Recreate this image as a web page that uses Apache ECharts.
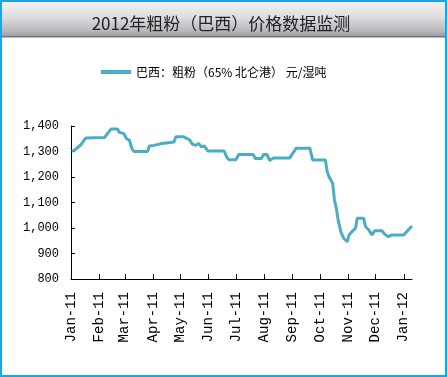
<!DOCTYPE html>
<html>
<head>
<meta charset="utf-8">
<script src="https://cdn.jsdelivr.net/npm/echarts@6/dist/echarts.min.js"></script>
<style>html,body{margin:0;padding:0;background:#fff;}#c{width:447px;height:377px;}</style>
</head>
<body>
<div id="c"></div>
<script>
var titleText = '2012年粗粉（巴西）价格数据监测';
var seriesName = '巴西：粗粉（65% 北仑港） 元/湿吨';
var dates = ['2011-01-02','2011-01-06','2011-01-08','2011-01-12','2011-01-17','2011-02-07','2011-02-10','2011-02-14','2011-02-21','2011-02-23','2011-02-28','2011-03-03','2011-03-06','2011-03-09','2011-03-11','2011-03-26','2011-03-28','2011-04-02','2011-04-03','2011-04-09','2011-04-10','2011-04-24','2011-04-26','2011-05-04','2011-05-06','2011-05-11','2011-05-14','2011-05-18','2011-05-21','2011-05-24','2011-05-27','2011-05-31','2011-06-18','2011-06-21','2011-06-23','2011-07-01','2011-07-04','2011-07-20','2011-07-22','2011-07-29','2011-07-31','2011-08-04','2011-08-07','2011-08-11','2011-08-29','2011-09-05','2011-09-20','2011-09-23','2011-10-07','2011-10-09','2011-10-11','2011-10-15','2011-10-17','2011-10-19','2011-10-21','2011-10-24','2011-10-27','2011-10-31','2011-11-02','2011-11-06','2011-11-09','2011-11-11','2011-11-18','2011-11-20','2011-11-23','2011-11-27','2011-11-30','2011-12-08','2011-12-11','2011-12-15','2011-12-19','2012-01-01','2012-01-05','2012-01-10'];
var prices = [1300,1308,1308,1327,1353,1355,1370,1388,1388,1375,1370,1350,1345,1310,1300,1300,1322,1324,1330,1330,1337,1337,1358,1358,1353,1346,1329,1324,1332,1318,1322,1302,1302,1277,1268,1268,1288,1288,1273,1273,1288,1288,1264,1275,1275,1313,1313,1267,1267,1221,1201,1175,1110,1077,1031,985,960,946,973,989,999,1038,1038,1005,995,973,989,989,976,966,973,973,989,1008];
var monthTicks = ['2011-01','2011-02','2011-03','2011-04','2011-05','2011-06','2011-07','2011-08','2011-09','2011-10','2011-11','2011-12','2012-01'];
var monthLabels = ['Jan-11','Feb-11','Mar-11','Apr-11','May-11','Jun-11','Jul-11','Aug-11','Sep-11','Oct-11','Nov-11','Dec-11','Jan-12'];
var yMin = 800, yMax = 1400, yStep = 100;

var tickValues = monthTicks.map(function(m){var p=m.split('-');return Date.UTC(+p[0], +p[1]-1, 1);});
var data = dates.map(function(d,i){var p=d.split('-');return [Date.UTC(+p[0],+p[1]-1,+p[2]), prices[i]];});
function labelFor(v){var i=tickValues.indexOf(v);return i>=0?monthLabels[i]:'';}

var chart = echarts.init(document.getElementById('c'));
chart.setOption({
  animation:false,
  backgroundColor:'#ffffff',
  graphic:[
    {type:'rect', z:0, shape:{x:2,y:2,width:443,height:34},
     style:{fill:new echarts.graphic.LinearGradient(0,0,0,1,[{offset:0,color:'#f2f2f2'},{offset:0.45,color:'#dedee0'},{offset:0.85,color:'#b8b8bc'},{offset:1,color:'#9e9ea2'}])}},
    {type:'rect', z:0, shape:{x:2,y:36,width:443,height:1.5}, style:{fill:'#77777b'}},
    {type:'rect', z:1, shape:{x:1,y:1,width:445,height:375}, style:{fill:null,stroke:'#1aa6e6',lineWidth:2}}
  ],
  title:{text:titleText,left:216,textAlign:'center',top:10,textStyle:{fontSize:17,fontWeight:'normal',color:'#222',fontFamily:'Noto Sans CJK SC'}},
  legend:{left:96,top:61,itemWidth:30,itemHeight:4,itemGap:4,icon:'rect',
    textStyle:{fontSize:12,color:'#000',fontFamily:'Noto Sans CJK SC'},data:[seriesName]},
  grid:{left:71,right:35,top:126,bottom:98},
  xAxis:{type:'value',min:Date.UTC(2011,0,1),max:Date.UTC(2012,0,10),
    axisLine:{lineStyle:{color:'#000',width:1}},
    axisTick:{show:true,inside:true,length:5,customValues:tickValues,lineStyle:{color:'#000'}},
    axisLabel:{customValues:tickValues,rotate:90,margin:13,color:'#000',fontSize:14,fontFamily:'Liberation Mono',formatter:function(v){return labelFor(v);}},
    splitLine:{show:false},minorTick:{show:false}},
  yAxis:{type:'value',min:yMin,max:yMax,interval:yStep,
    axisLine:{show:true,lineStyle:{color:'#000',width:1}},
    axisTick:{show:true,inside:true,length:4,lineStyle:{color:'#000'}},
    axisLabel:{margin:12,color:'#000',fontSize:12,fontFamily:'Liberation Mono',formatter:function(v){return v.toLocaleString('en-US');}},
    splitLine:{show:false}},
  series:[{name:seriesName,type:'line',data:data,showSymbol:false,symbol:'none',
    lineStyle:{color:'#4bacc6',width:3},itemStyle:{color:'#4bacc6'}}]
});
</script>
</body>
</html>
